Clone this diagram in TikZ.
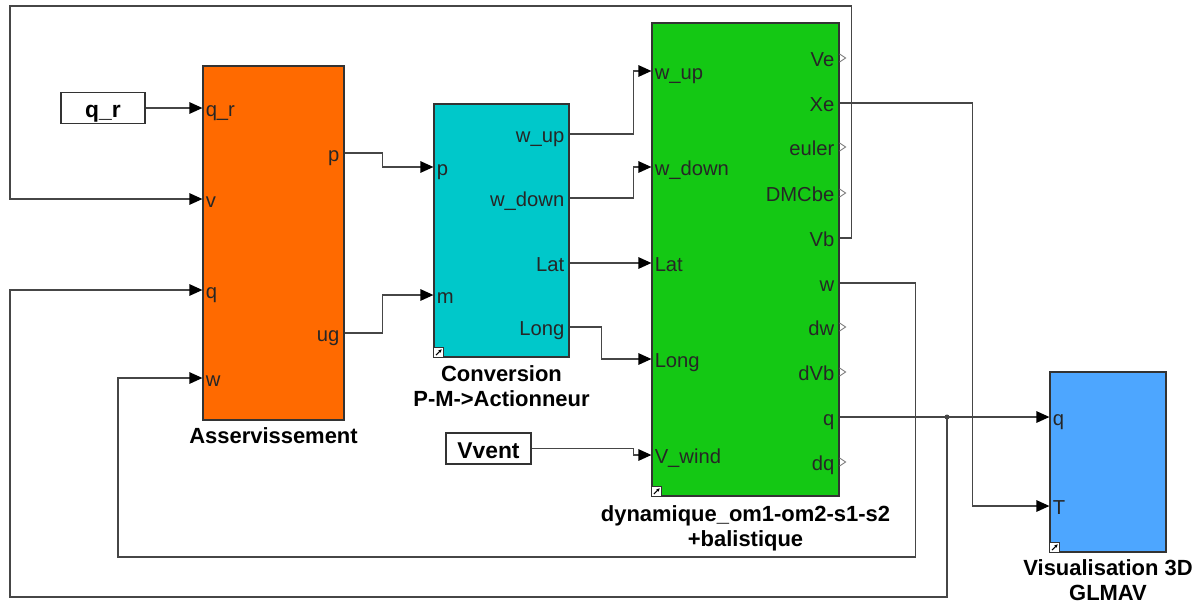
\documentclass[tikz,border=0pt]{standalone}
\usepackage{fontspec}
\setmainfont{Liberation Sans}
\usetikzlibrary{positioning,arrows.meta}

\definecolor{asorange}{RGB}{255,106,0}
\definecolor{convcyan}{RGB}{0,200,202}
\definecolor{dyngreen}{RGB}{20,200,20}
\definecolor{visblue}{RGB}{77,166,255}
\definecolor{wire}{RGB}{70,70,70}

\begin{document}
\begin{tikzpicture}[x=0.02cm, y=-0.02cm,
    block/.style={draw=black!80, line width=0.7pt, inner sep=0},
    const/.style={block, fill=white, font=\fontsize{13}{15}\selectfont\bfseries, text height=0.40cm, text depth=0.02cm},
    blabel/.style={font=\fontsize{12.5}{14}\selectfont\bfseries, align=center, inner sep=0},
    pin/.style={font=\fontsize{11.5}{13}\selectfont, inner sep=0, text=black!85},
    inport/.style={pin, anchor=base west, xshift=0.06cm, yshift=-0.16cm},
    outport/.style={pin, anchor=base east, xshift=-0.1cm, yshift=-0.16cm},
    sig/.style={draw=wire, line width=0.75pt, -{Triangle[length=0.26cm, width=0.23cm, color=black]}},
    freeport/.style={draw=gray, line width=0.5pt}
  ]
    \useasboundingbox (0,0) rectangle (1196,606);

    % --- blocks ---
    \node[const, minimum width=1.68cm, minimum height=0.62cm] (qr) at (103,108) {q\_r};
    \node[const, minimum width=1.70cm, minimum height=0.62cm] (vv) at (488.5,448.5) {Vvent};
    \node[block, fill=asorange, minimum width=2.82cm, minimum height=7.08cm] (as) at (273.5,243) {};
    \node[block, fill=convcyan, minimum width=2.70cm, minimum height=5.06cm] (conv) at (501.5,230.5) {};
    \node[block, fill=dyngreen, minimum width=3.74cm, minimum height=9.46cm] (dyn) at (745.5,259.5) {};
    \node[block, fill=visblue, minimum width=2.32cm, minimum height=3.60cm] (vis) at (1108,462) {};

    % block names
    \node[blabel, below=0.14cm of as] (as-lbl) {Asservissement};
    \node[blabel, below=0.16cm of conv] (conv-lbl) {Conversion\\P-M->Actionneur};
    \node[blabel, below=0.18cm of dyn] (dyn-lbl) {dynamique\_om1-om2-s1-s2\\+balistique};
    \node[blabel, below=0.14cm of vis] (vis-lbl) {Visualisation 3D\\GLMAV};

    % --- ports ---
    \foreach \nm/\y/\txt in {qr/108/q\_r, v/199/v, q/290/q, w/378/w} {
      \coordinate (as-\nm) at (as.west |- 0,\y);
      \node[inport] (as-\nm-t) at (as-\nm) {\txt};
    }
    \foreach \nm/\y/\txt in {p/153/p, ug/333/ug} {
      \coordinate (as-\nm) at (as.east |- 0,\y);
      \node[outport] (as-\nm-t) at (as-\nm) {\txt};
    }
    \foreach \nm/\y/\txt in {p/167/p, m/295/m} {
      \coordinate (conv-\nm) at (conv.west |- 0,\y);
      \node[inport] (conv-\nm-t) at (conv-\nm) {\txt};
    }
    \foreach \nm/\y/\txt in {wup/134/w\_up, wdown/198/w\_down, lat/263/Lat, long/327/Long} {
      \coordinate (conv-\nm) at (conv.east |- 0,\y);
      \node[outport] (conv-\nm-t) at (conv-\nm) {\txt};
    }
    \foreach \nm/\y/\txt in {wup/71/w\_up, wdown/167/w\_down, lat/263/Lat, long/359/Long, vw/455/V\_wind} {
      \coordinate (dyn-\nm) at (dyn.west |- 0,\y);
      \node[inport] (dyn-\nm-t) at (dyn-\nm) {\txt};
    }
    \foreach \nm/\y in {Ve/58, Xe/103, euler/147, DMCbe/193, Vb/238, w/283, dw/327, dVb/372, q/417, dq/462} {
      \coordinate (dyn-\nm) at (dyn.east |- 0,\y);
      \node[outport] (dyn-\nm-t) at (dyn-\nm) {\nm};
    }
    \foreach \nm/\y in {q/417, T/506} {
      \coordinate (vis-\nm) at (vis.west |- 0,\y);
      \node[inport] (vis-\nm-t) at (vis-\nm) {\nm};
    }

    % unconnected outputs
    \foreach \nm in {Ve, euler, DMCbe, dw, dVb, dq}
      \draw[freeport] (dyn-\nm) ++(0,-4) -- ++(6,4) -- ++(-6,4);

    % library link icons
    \foreach \b in {conv, dyn, vis} {
      \draw[fill=white, draw=black!80, line width=0.4pt] (\b.south west) rectangle ++(10,-10);
      \draw[line width=0.6pt, -{Latex[length=0.07cm, width=0.07cm]}] ([xshift=0.05cm, yshift=0.05cm]\b.south west) -- ++(6,-6);
    }

    % --- feedback corners ---
    \coordinate (fb-v) at (10,6);
    \coordinate (fb-w) at (118,557);
    \coordinate (fb-q) at (10,597);
    \coordinate (qbr) at (dyn-q -| 947,0);

    % --- signals ---
    \draw[sig] (qr) -- (as-qr);
    \draw[sig] (as-p) -- ++(38,0) |- (conv-p);
    \draw[sig] (as-ug) -- ++(38,0) |- (conv-m);
    \draw[sig] (conv-wup) -- ++(64,0) |- (dyn-wup);
    \draw[sig] (conv-wdown) -- ++(64,0) |- (dyn-wdown);
    \draw[sig] (conv-lat) -- (dyn-lat);
    \draw[sig] (conv-long) -- ++(32,0) |- (dyn-long);
    \draw[sig] (vv.east) -- ++(102,0) |- (dyn-vw);
    \draw[sig] (dyn-Xe) -- ++(133,0) |- (vis-T);
    \draw[sig] (dyn-q) -- (vis-q);
    \draw[sig] (dyn-Vb) -- ++(12,0) |- (fb-v) |- (as-v);
    \draw[sig] (dyn-w) -- ++(76,0) |- (fb-w) |- (as-w);
    \draw[sig] (qbr) |- (fb-q) |- (as-q);
    \fill[wire] (qbr) circle (0.05cm);
  \end{tikzpicture}
\end{document}
